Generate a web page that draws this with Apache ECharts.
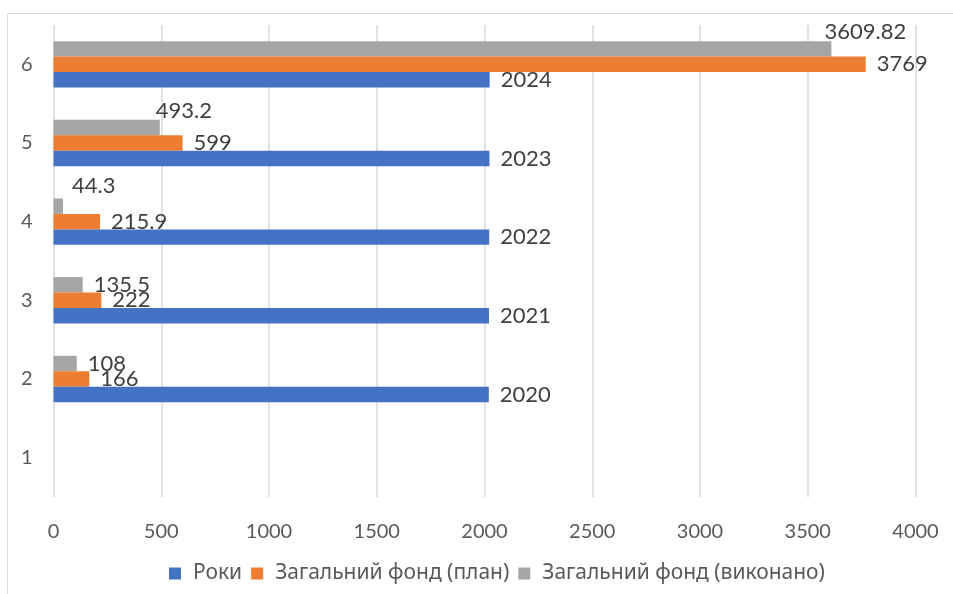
<!DOCTYPE html>
<html>
<head>
<meta charset="utf-8">
<script src="https://cdn.jsdelivr.net/npm/echarts@6/dist/echarts.min.js"></script>
<style>
html,body{margin:0;padding:0;background:#fff;}
#chart{width:953px;height:594px;}
</style>
</head>
<body>
<div id="chart"></div>
<script>
const categories = ['1', '2', '3', '4', '5', '6'];
const years = [null, 2020, 2021, 2022, 2023, 2024];
const planFund = [null, 166, 222, 215.9, 599, 3769];
const doneFund = [null, 108, 135.5, 44.3, 493.2, 3609.82];
const xTicks = [0, 500, 1000, 1500, 2000, 2500, 3000, 3500, 4000];
const seriesNames = ['Роки', 'Загальний фонд (план)', 'Загальний фонд (виконано)'];
const seriesColors = ['#4472c4', '#ed7d31', '#a5a5a5'];

const chart = echarts.init(document.getElementById('chart'));
const font = 'Lato, "Noto Sans"';
const labelBase = { show: true, position: 'right', distance: 11, color: '#404040', fontFamily: font, fontSize: 22 };

// label offsets for the grey series (Excel moved some labels to avoid overlap)
const greyOffsets = [[0,0],[0,0],[0,0],[-2,-20],[-15,-17],[-18,-17]];

function mk(values, offsets) {
  return values.map((v, i) => {
    if (v === null) return { value: null, label: { show: false } };
    const item = { value: v };
    if (offsets) item.label = { offset: offsets[i] };
    return item;
  });
}

function bar(idx, values, offsets) {
  return {
    name: seriesNames[idx], type: 'bar', data: mk(values, offsets),
    itemStyle: { color: seriesColors[idx] },
    barGap: '0%', barCategoryGap: '41%', label: labelBase
  };
}

chart.setOption({
  animation: false,
  graphic: [{
    type: 'rect',
    shape: { x: 7.5, y: 13.5, width: 1000, height: 700 },
    style: { fill: 'none', stroke: '#d9d9d9', lineWidth: 1 },
    silent: true
  }],
  grid: { left: 53.5, right: 37.5, top: 25, bottom: 97, containLabel: false },
  legend: {
    bottom: 5,
    left: 164,
    itemWidth: 12,
    itemHeight: 12,
    itemGap: 9,
    icon: 'rect',
    textStyle: { color: '#595959', fontFamily: '"Noto Sans"', fontSize: 21, padding: [0, 0, 0, 7] },
    data: seriesNames
  },
  xAxis: {
    type: 'value',
    min: xTicks[0],
    max: xTicks[xTicks.length - 1],
    interval: xTicks[1] - xTicks[0],
    axisLine: { show: false },
    axisTick: { show: false },
    axisLabel: { color: '#595959', fontFamily: font, fontSize: 20, margin: 25, formatter: v => String(v) },
    splitLine: { show: true, lineStyle: { color: '#d9d9d9', width: 1.5 } }
  },
  yAxis: {
    type: 'category',
    data: categories,
    axisLine: { show: false },
    axisTick: { show: false },
    axisLabel: { color: '#595959', fontFamily: font, fontSize: 20, margin: 21 },
    splitLine: { show: false }
  },
  series: [
    bar(2, doneFund, greyOffsets),
    bar(1, planFund),
    bar(0, years)
  ]
});
</script>
</body>
</html>
